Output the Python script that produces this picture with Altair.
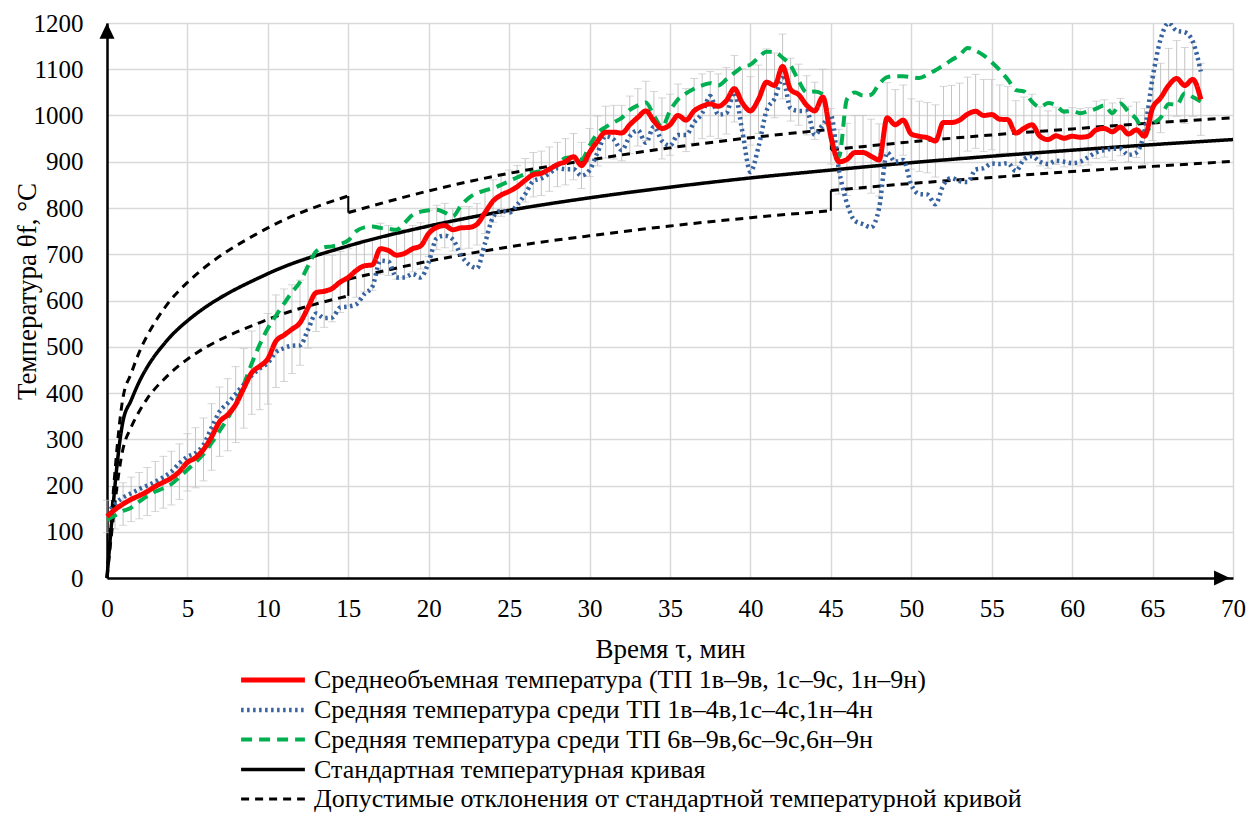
import altair as alt
import pandas as pd

# ---------------- data ----------------
t_meas = [
    0.0, 0.5, 1.0, 1.5, 2.0, 2.5, 3.0, 3.5, 4.0, 4.5,
    5.0, 5.5, 6.0, 6.5, 7.0, 7.5, 8.0, 8.5, 9.0, 9.5,
    10.0, 10.5, 11.0, 11.5, 12.0, 12.5, 13.0, 13.5, 14.0, 14.5,
    15.0, 15.5, 16.0, 16.5, 17.0, 17.5, 18.0, 18.5, 19.0, 19.5,
    20.0, 20.5, 21.0, 21.5, 22.0, 22.5, 23.0, 23.5, 24.0, 24.5,
    25.0, 25.5, 26.0, 26.5, 27.0, 27.5, 28.0, 28.5, 29.0, 29.5,
    30.0, 30.5, 31.0, 31.5, 32.0, 32.5, 33.0, 33.5, 34.0, 34.5,
    35.0, 35.5, 36.0, 36.5, 37.0, 37.5, 38.0, 38.5, 39.0, 39.5,
    40.0, 40.5, 41.0, 41.5, 42.0, 42.5, 43.0, 43.5, 44.0, 44.5,
    45.0, 45.5, 46.0, 46.5, 47.0, 47.5, 48.0, 48.5, 49.0, 49.5,
    50.0, 50.5, 51.0, 51.5, 52.0, 52.5, 53.0, 53.5, 54.0, 54.5,
    55.0, 55.5, 56.0, 56.5, 57.0, 57.5, 58.0, 58.5, 59.0, 59.5,
    60.0, 60.5, 61.0, 61.5, 62.0, 62.5, 63.0, 63.5, 64.0, 64.5,
    65.0, 65.5, 66.0, 66.5, 67.0, 67.5, 68.0,
]

mean_all = [
    133, 148, 160, 170, 178, 187, 198, 207, 216, 230,
    250, 260, 278, 305, 338, 353, 375, 410, 444, 458,
    474, 512, 525, 538, 552, 585, 617, 620, 626, 640,
    650, 665, 675, 677, 712, 708, 698, 702, 712, 718,
    745, 758, 762, 753, 757, 758, 765, 790, 815, 828,
    836, 846, 860, 872, 875, 884, 894, 900, 911, 892,
    920, 945, 964, 964, 962, 980, 996, 1010, 988, 972,
    980, 1000, 990, 1010, 1020, 1025, 1020, 1032, 1058, 1027,
    1010, 1035, 1072, 1065, 1106, 1056, 1045, 1022, 1010, 1040,
    955, 900, 905, 920, 920, 912, 904, 995, 980, 990,
    960, 955, 952, 945, 985, 985, 990, 1003, 1009, 1000,
    1002, 992, 991, 962, 972, 980, 955, 948, 956, 951,
    955, 953, 955, 969, 972, 965, 975, 960, 969, 955,
    1016, 1038, 1065, 1080, 1065, 1078, 1035,
]

mean_1_4 = [
    138, 160, 174, 183, 192, 200, 208, 218, 230, 248,
    262, 270, 288, 325, 360, 378, 398, 418, 438, 453,
    465, 488, 497, 502, 503, 537, 572, 562, 563, 585,
    587, 592, 614, 630, 686, 684, 650, 650, 657, 650,
    683, 735, 740, 732, 698, 678, 670, 724, 780, 794,
    790, 807, 830, 858, 864, 875, 886, 884, 884, 870,
    882, 920, 955, 948, 925, 955, 968, 941, 976, 945,
    935, 958, 958, 985, 1005, 1042, 1002, 1005, 1050, 965,
    878, 932, 1010, 1036, 1081, 1015, 1010, 1010, 958, 980,
    1000, 883, 810, 772, 765, 758, 800, 920, 900, 904,
    850, 830, 829, 808, 850, 865, 858, 856, 883, 886,
    896, 895, 897, 880, 905, 912, 900, 895, 902, 900,
    897, 900, 910, 920, 925, 928, 928, 915, 920, 966,
    1081, 1165, 1200, 1183, 1180, 1160, 1095,
]

mean_6_9 = [
    126, 135, 145, 152, 165, 177, 187, 194, 203, 218,
    234, 250, 268, 292, 318, 345, 378, 418, 464, 505,
    540, 567, 593, 618, 640, 675, 706, 715, 717, 722,
    730, 750, 758, 760, 757, 755, 753, 768, 785, 792,
    795, 796, 790, 782, 805, 822, 832, 838, 843, 850,
    858, 866, 873, 877, 880, 884, 895, 908, 910, 905,
    935, 962, 975, 985, 995, 1012, 1022, 1028, 1000, 975,
    1010, 1035, 1048, 1058, 1065, 1070, 1065, 1078, 1092, 1105,
    1110, 1125, 1138, 1137, 1125, 1108, 1075, 1050, 1052, 1046,
    950, 910, 1035, 1050, 1043, 1045, 1068, 1083, 1085, 1085,
    1083, 1081, 1088, 1098, 1108, 1120, 1130, 1146, 1140, 1130,
    1115, 1098, 1078, 1055, 1052, 1030, 1018, 1027, 1022, 1008,
    1010, 1005, 1009, 1015, 1022, 1005, 1026, 1008, 992, 962,
    982, 995, 1025, 1023, 1048, 1040, 1030,
]

err_half = [
    35, 42, 46, 48, 50, 52, 54, 56, 58, 60,
    62, 65, 68, 72, 75, 78, 82, 86, 90, 94,
    98, 100, 100, 96, 92, 88, 84, 78, 72, 66,
    62, 58, 56, 55, 55, 54, 52, 52, 50, 50,
    50, 48, 48, 46, 46, 45, 45, 45, 46, 46,
    46, 46, 47, 48, 48, 48, 48, 50, 50, 50,
    52, 54, 56, 58, 60, 62, 62, 64, 64, 66,
    66, 68, 68, 70, 70, 70, 70, 72, 72, 74,
    74, 74, 72, 70, 70, 68, 66, 64, 62, 60,
    60, 70, 78, 80, 80, 80, 78, 76, 76, 76,
    76, 76, 76, 78, 78, 80, 80, 80, 80, 78,
    76, 74, 72, 70, 68, 66, 64, 62, 62, 62,
    62, 62, 62, 62, 62, 62, 62, 60, 60, 60,
    70, 75, 80, 82, 82, 80, 78,
]

# standard temperature curve
t_std = [0, 1, 1.5, 2, 2.5, 3, 3.5, 4, 4.5, 5, 10, 15, 20, 25, 30, 35, 40, 45, 50, 55, 60, 65, 70]
v_std = [0, 340, 384, 424, 456, 482, 504, 524, 541, 556, 658, 718, 761, 795, 822, 845, 865, 882, 898, 912, 925, 937, 948]

# permissible deviations, three pieces each (0-15, 15-45, 45-70 min)
t_dev1 = [0, 1, 1.5, 2, 2.5, 3, 3.5, 4, 4.5, 5, 10, 15]
up_dev1 = [0, 391, 442, 488, 524, 554, 580, 603, 622, 639, 757, 826]
lo_dev1 = [0, 280, 326, 360, 388, 410, 428, 445, 460, 473, 559, 610]
t_dev2 = [15, 20, 25, 30, 35, 40, 45]
up_dev2 = [790, 837, 875, 904, 930, 952, 970]
lo_dev2 = [646, 685, 716, 740, 761, 779, 794]
t_dev3 = [45, 50, 55, 60, 65, 70]
up_dev3 = [926, 943, 958, 971, 984, 995]
lo_dev3 = [838, 853, 866, 879, 890, 901]

names = [
    "Среднеобъемная температура (ТП 1в–9в, 1с–9с, 1н–9н)",
    "Средняя температура среди ТП 1в–4в,1с–4с,1н–4н",
    "Средняя температура среди ТП 6в–9в,6с–9с,6н–9н",
    "Стандартная температурная кривая",
    "Допустимые отклонения от стандартной температурной кривой",
]
colors = ["#ff0000", "#3763a0", "#00b050", "#000000", "#000000"]
dashes = [[1, 0], [2.5, 3.5], [11, 7], [1, 0], [8, 6]]
widths = [5, 3, 3.5, 2, 2]

# ---------------- tables ----------------
def series_df(vals, name):
    return pd.DataFrame({"t": t_meas, "v": vals, "series": name})

df_red = series_df(mean_all, names[0])
df_blue = series_df(mean_1_4, names[1])
df_green = series_df(mean_6_9, names[2])
df_err = pd.DataFrame({
    "t": t_meas,
    "lo": [m - e for m, e in zip(mean_all, err_half)],
    "hi": [m + e for m, e in zip(mean_all, err_half)],
})
df_std = pd.DataFrame({"t": t_std, "v": v_std, "series": names[3]})
pieces = []
for k, (tt, up, lo) in enumerate([(t_dev1, up_dev1, lo_dev1), (t_dev2, up_dev2, lo_dev2), (t_dev3, up_dev3, lo_dev3)]):
    pieces.append(pd.DataFrame({"t": tt, "v": up, "piece": f"up{k}"}))
    pieces.append(pd.DataFrame({"t": tt, "v": lo, "piece": f"lo{k}"}))
df_dev = pd.concat(pieces)
df_dev["series"] = names[4]
# vertical steps between the pieces
df_steps = pd.DataFrame({
    "t": [t_dev1[-1], t_dev1[-1], t_dev2[-1], t_dev2[-1]],
    "a": [up_dev1[-1], lo_dev1[-1], up_dev2[-1], lo_dev2[-1]],
    "b": [up_dev2[0], lo_dev2[0], up_dev3[0], lo_dev3[0]],
})

FONT = "Liberation Serif"
TICK_FS = 25
TITLE_FS = 27

legend = alt.Legend(
    orient="none", legendX=149, legendY=640, direction="vertical", title=None,
    labelFont=FONT, labelFontSize=26, labelColor="black", labelLimit=1200,
    symbolType="M-2.2,0L2.2,0", symbolSize=841, labelOffset=24, rowPadding=0,
    symbolFillColor="transparent",
)
cscale = alt.Scale(domain=names, range=colors)
dscale = alt.Scale(domain=names, range=dashes)
wscale = alt.Scale(domain=names, range=widths)

xscale = alt.Scale(domain=[0, 70], nice=False, zero=False)
yscale = alt.Scale(domain=[0, 1200], nice=False)

xaxis = alt.Axis(
    values=list(range(0, 71, 5)), title="Время τ, мин", grid=True,
    gridColor="#d9d9d9", gridWidth=1.5, domainColor="black", domainWidth=2.5,
    ticks=False, labelFont=FONT, labelFontSize=TICK_FS, labelColor="black", labelPadding=18,
    titleFont=FONT, titleFontSize=TITLE_FS, titleFontWeight="normal", titleColor="black",
    titlePadding=15, labelFlush=False,
)
yaxis = alt.Axis(
    values=list(range(0, 1201, 100)), format="d", title="Температура  θf, °C", grid=True,
    gridColor="#d9d9d9", gridWidth=1.5, domainColor="black", domainWidth=2.5,
    ticks=False, labelFont=FONT, labelFontSize=TICK_FS, labelColor="black", labelPadding=24,
    titleFont=FONT, titleFontSize=TITLE_FS, titleFontWeight="normal", titleColor="black",
    titleX=-80, titleY=268, titleAlign="center", titleBaseline="middle", titleAngle=270,
    labelFlush=False,
)

X = alt.X("t:Q", scale=xscale, axis=xaxis)
Y = alt.Y("v:Q", scale=yscale, axis=yaxis)


def styled(chart):
    return chart.encode(
        color=alt.Color("series:N", scale=cscale, legend=legend),
        strokeDash=alt.StrokeDash("series:N", scale=dscale, legend=legend),
        strokeWidth=alt.StrokeWidth("series:N", scale=wscale, legend=legend),
    )

ERR_C = "#c4c4c4"
err_rule = alt.Chart(df_err).mark_rule(color=ERR_C, strokeWidth=1).encode(
    x=alt.X("t:Q", scale=xscale, axis=xaxis),
    y=alt.Y("lo:Q", scale=yscale, axis=yaxis),
    y2="hi:Q",
)
err_lo = alt.Chart(df_err).mark_tick(color=ERR_C, orient="horizontal", size=8, thickness=1).encode(
    x=alt.X("t:Q", scale=xscale), y=alt.Y("lo:Q", scale=yscale)
)
err_hi = alt.Chart(df_err).mark_tick(color=ERR_C, orient="horizontal", size=8, thickness=1).encode(
    x=alt.X("t:Q", scale=xscale), y=alt.Y("hi:Q", scale=yscale)
)

std_line = styled(alt.Chart(df_std).mark_line(interpolate="monotone").encode(x=X, y=Y))
dev_line = styled(alt.Chart(df_dev).mark_line(interpolate="monotone").encode(
    x=X, y=Y, detail="piece:N"))
dev_steps = alt.Chart(df_steps).mark_rule(color="black", strokeWidth=2).encode(
    x=alt.X("t:Q", scale=xscale), y=alt.Y("a:Q", scale=yscale), y2="b:Q"
)
green_line = styled(alt.Chart(df_green).mark_line(interpolate="monotone").encode(x=X, y=Y))
blue_line = styled(alt.Chart(df_blue).mark_line(interpolate="monotone", clip=True).encode(x=X, y=Y))
red_line = styled(alt.Chart(df_red).mark_line(interpolate="monotone").encode(x=X, y=Y))

arrow_up = alt.Chart(pd.DataFrame({"t": [0], "v": [1200]})).mark_point(
    shape="M0,0 L-1,2.1 L1,2.1 Z", filled=True, size=225, color="black", opacity=1
).encode(x=alt.X("t:Q", scale=xscale), y=alt.Y("v:Q", scale=yscale))
arrow_right = alt.Chart(pd.DataFrame({"t": [69.8], "v": [0]})).mark_point(
    shape="M0,0 L-2.1,-1 L-2.1,1 Z", filled=True, size=225, color="black", opacity=1
).encode(x=alt.X("t:Q", scale=xscale), y=alt.Y("v:Q", scale=yscale))

chart = alt.layer(
    err_rule, err_lo, err_hi, std_line, dev_line, dev_steps, green_line, blue_line, red_line,
    arrow_up, arrow_right,
).properties(
    width=1126, height=555,
    autosize=alt.AutoSizeParams(type="none"),
    padding={"left": 107, "top": 23, "right": 14, "bottom": 235},
).configure_view(stroke=None).configure(background="white")

chart.save("out.html", embed_options={"renderer": "svg", "actions": False})
